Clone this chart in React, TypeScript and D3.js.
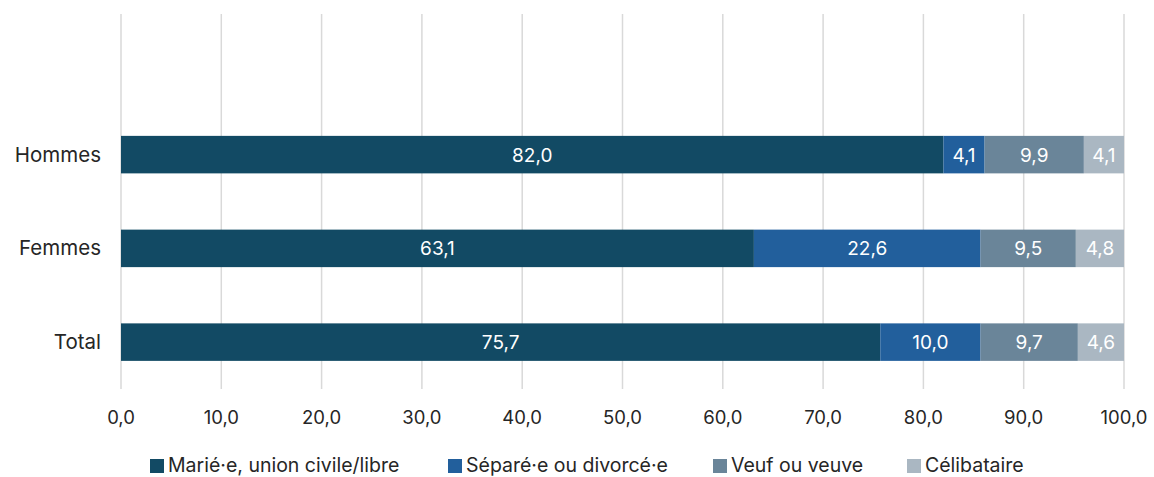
import React from "react";
import * as d3 from "d3";

const categories = ["", "Hommes", "Femmes", "Total"];
const seriesNames = ["Marié·e, union civile/libre", "Séparé·e ou divorcé·e", "Veuf ou veuve", "Célibataire"];
const marie = [null, 82.0, 63.1, 75.7];
const separe = [null, 4.1, 22.6, 10.0];
const veuf = [null, 9.9, 9.5, 9.7];
const celib = [null, 4.1, 4.8, 4.6];
const ticks = [0, 10, 20, 30, 40, 50, 60, 70, 80, 90, 100];
const colors = ["#124A64", "#225F9C", "#6A8599", "#AAB7C2"];

const W = 1154, H = 477;
const fmt = (v: number) => v.toFixed(1).replace(".", ",");
const FONT = "Inter, 'Noto Sans', sans-serif";

export default function App() {
  const x = d3.scaleLinear().domain([0, 100]).range([121, 1124]);
  const y = d3.scaleBand<string>().domain(categories).range([14, 389]).paddingInner(0.6).paddingOuter(0.3);
  const series = [marie, separe, veuf, celib];
  const legendX = [150, 448, 713, 907];
  return (
    <svg width={W} height={H} style={{ position: "absolute", left: 0, top: 0, fontFamily: FONT }}>
      <rect width={W} height={H} fill="#fff" />
      {ticks.map((t) => (
        <g key={t}>
          <line x1={x(t)} x2={x(t)} y1={14} y2={389} stroke="#D9D9D9" strokeWidth={1.5} />
          <text x={x(t)} y={424} textAnchor="middle" fontSize={18.5} fill="#262626">{fmt(t)}</text>
        </g>
      ))}
      {categories.map((c, i) => {
        if (marie[i] == null) return null;
        let acc = 0;
        const yy = y(c)!;
        const bh = y.bandwidth();
        return (
          <g key={c}>
            {series.map((s, k) => {
              const v = s[i] as number;
              const x0 = x(acc);
              acc += v;
              const x1 = Math.min(x(acc), x(100));
              return (
                <g key={k}>
                  <rect x={x0} y={yy} width={x1 - x0} height={bh} fill={colors[k]} />
                  <text x={(x0 + x1) / 2} y={yy + bh / 2 + 7} textAnchor="middle" fontSize={19} fill="#fff">{fmt(v)}</text>
                </g>
              );
            })}
            <text x={101} y={yy + bh / 2 + 7} textAnchor="end" fontSize={20.5} fill="#262626">{c}</text>
          </g>
        );
      })}
      {seriesNames.map((n, k) => (
        <g key={n}>
          <rect x={legendX[k]} y={459} width={14} height={14} fill={colors[k]} />
          <text x={legendX[k] + 18} y={472} fontSize={19.5} fill="#262626">{n}</text>
        </g>
      ))}
    </svg>
  );
}
